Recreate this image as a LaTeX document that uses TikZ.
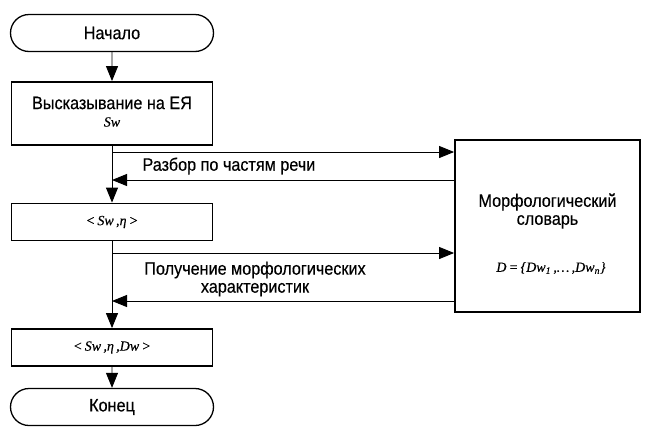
\documentclass[tikz,border=0pt]{standalone}
\usepackage{fontspec}
\setmainfont[FakeStretch=0.9,FakeBold=0.4]{Liberation Sans}
\newfontfamily\tms[FakeBold=0.3]{Liberation Serif}
\usetikzlibrary{arrows.meta,shapes.misc}
\begin{document}
\begin{tikzpicture}[x=1pt,y=-1pt,
  box/.style={draw,line width=1.8pt,minimum width=201pt,inner sep=0pt},
  term/.style={draw,line width=1.3pt,rounded rectangle,minimum width=203pt,minimum height=37pt,inner sep=0pt,font=\fontsize{18}{18}\selectfont},
  conn/.style={line width=0.9pt,-{Triangle[length=15pt,width=12pt]}},
  lbl/.style={font=\fontsize{18}{18}\selectfont,align=center},
  mth/.style={font=\fontsize{14}{16}\tms\itshape}]
\useasboundingbox (0,0) rectangle (651,437);
\node[term] (start) at (112,33) {Начало};
\node[box,minimum height=63pt,align=center] (b1) at (112,113.5) {};
\node[lbl] (t1) at (112,103) {Высказывание на ЕЯ};
\node[mth] (t2) at (112,122) {Sw};
\node[box,minimum height=37pt,mth] (b2) at (112,222) {<\,Sw\,,η\,>};
\node[box,minimum height=37pt,mth] (b3) at (112,347.5) {<\,Sw\,,η\,,Dw\,>};
\node[term] (end) at (112,407) {Конец};
\node[box,minimum width=185pt,minimum height=172pt] (dict) at (547.5,226) {};
\node[lbl] (t3) at (547.5,211) {Морфологический\\словарь};
\node[mth] (t4) at (551,268) {D\,=\,\{Dw\textsubscript{1}\,,…\,,Dw\textsubscript{n}\}};
\draw[conn] (start) -- (b1);
\draw[conn] (b1) -- (b2);
\draw[conn] (b2) -- (b3);
\draw[conn] (b3) -- (end);
\coordinate (s1) at (112,152);
\coordinate (r1) at (112,180);
\coordinate (s2) at (112,253);
\coordinate (r2) at (112,301);
\draw[conn] (s1) -- (s1 -| dict.west);
\draw[conn] (r1 -| dict.west) -- (r1);
\draw[conn] (s2) -- (s2 -| dict.west);
\draw[conn] (r2 -| dict.west) -- (r2);
\node[lbl,anchor=west] (l1) at (139,166) {Разбор по частям речи};
\node[lbl] (l2) at (255,279) {Получение морфологических\\характеристик};
\end{tikzpicture}
\end{document}
